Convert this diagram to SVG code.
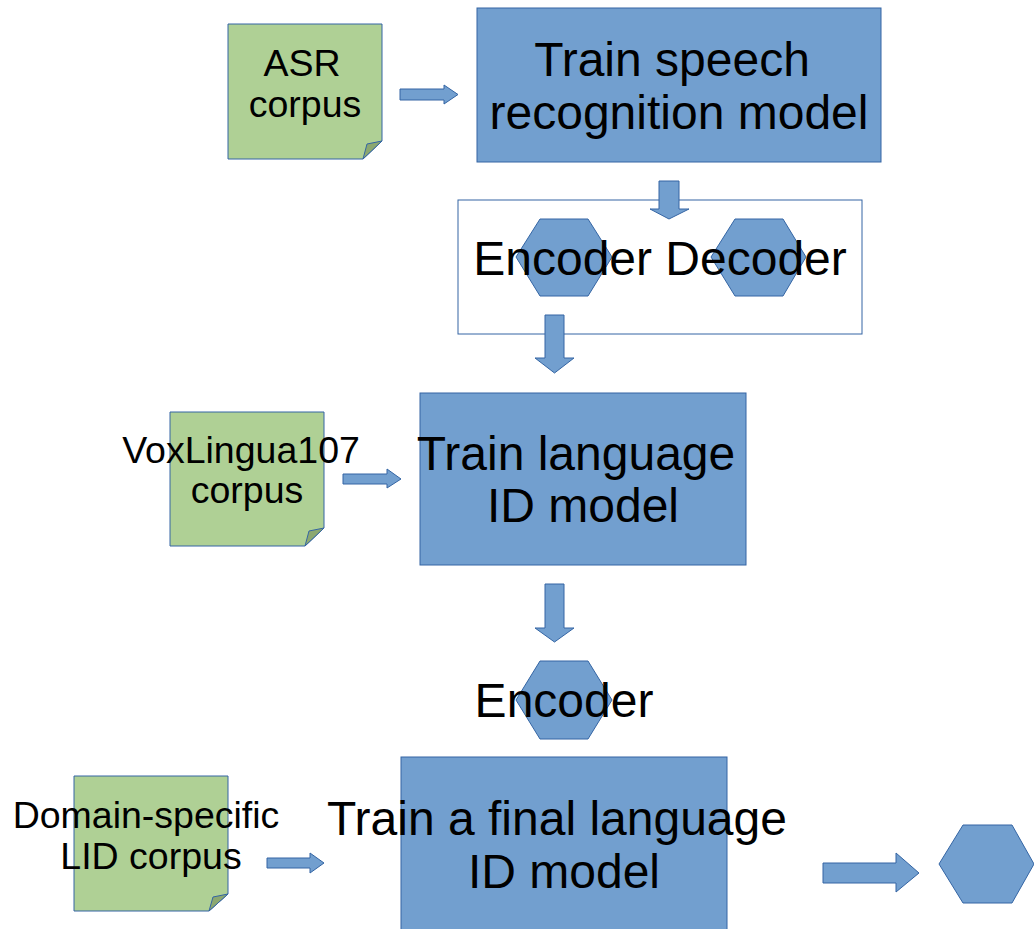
<svg xmlns="http://www.w3.org/2000/svg" width="1034" height="929" viewBox="0 0 1034 929">
<style>
.box{fill:#729fcf;stroke:#3465a4;stroke-width:1}
.note{fill:#afd095;stroke:#3465a4;stroke-width:1}
.fold{fill:#8ca870;stroke:#3465a4;stroke-width:1}
.arr{fill:#729fcf;stroke:#3465a4;stroke-width:1}
.frame{fill:#ffffff;stroke:#3465a4;stroke-width:1}
.big{font-family:"Liberation Sans",Arial,sans-serif;font-size:48px;fill:#000;text-anchor:middle}
.sm{font-family:"Liberation Sans",Arial,sans-serif;font-size:37.5px;fill:#000;text-anchor:middle}
</style>
<rect width="1034" height="929" fill="#ffffff"/>
<g id="asr-corpus">
<path class="note" d="M228,24 H382 V141 L363,159 H228 Z"/>
<path class="fold" d="M382,141 L367,144 L363,159 Z"/>
<text class="sm" x="302" y="76">ASR</text>
<text class="sm" x="305" y="117">corpus</text>
</g>
<g id="train-asr">
<rect class="box" x="477" y="8" width="404" height="154"/>
<text class="big" x="672" y="76">Train speech</text>
<text class="big" x="679" y="129">recognition model</text>
</g>
<g id="encdec-frame">
<rect class="frame" x="458" y="200" width="404" height="134"/>
</g>
<g id="hex-encoder1">
<polygon class="box" points="516,257 540,219 588,219 612,257 588,296 540,296"/>
</g>
<g id="hex-decoder">
<polygon class="box" points="711,257 735,219 783,219 806,257 783,296 735,296"/>
</g>
<g id="encdec-label">
<text class="big" x="660" y="275">Encoder Decoder</text>
</g>
<g id="vox-corpus">
<path class="note" d="M170,412 H324 V528 L305,546 H170 Z"/>
<path class="fold" d="M324,528 L309,531 L305,546 Z"/>
<text class="sm" x="241" y="463">VoxLingua107</text>
<text class="sm" x="247" y="503">corpus</text>
</g>
<g id="train-lid">
<rect class="box" x="420" y="393" width="326" height="172"/>
<text class="big" x="576" y="470">Train language</text>
<text class="big" x="583" y="522">ID model</text>
</g>
<g id="hex-encoder2">
<polygon class="box" points="516,700 540,661 588,661 612,700 588,739 540,739"/>
<text class="big" x="564" y="717">Encoder</text>
</g>
<g id="domain-corpus">
<path class="note" d="M74,776 H228 V894 L209,911 H74 Z"/>
<path class="fold" d="M228,894 L213,897 L209,911 Z"/>
<text class="sm" x="146" y="828">Domain-specific</text>
<text class="sm" x="151" y="869">LID corpus</text>
</g>
<g id="train-final">
<rect class="box" x="401" y="757" width="326" height="180"/>
<text class="big" x="557" y="835">Train a final language</text>
<text class="big" x="564" y="888">ID model</text>
</g>
<g id="hex-output">
<polygon class="box" points="939,864 963,825 1012,825 1034,864 1012,903 963,903"/>
</g>
<g id="connectors">
<path class="arr" d="M400,89 H444 V85 L458,94.5 L444,104 V100 H400 Z"/>
<path class="arr" d="M659,181 H679 V209 H689 L669,219 L650,209 H659 Z"/>
<path class="arr" d="M545,315 H564 V358 H574 L554.5,373 L535,358 H545 Z"/>
<path class="arr" d="M343,474 H387 V469 L401,479 L387,488 V484 H343 Z"/>
<path class="arr" d="M545,584 H564 V628 H574 L554.5,642 L535,628 H545 Z"/>
<path class="arr" d="M267,858 H310 V853 L324,863 L310,873 V868 H267 Z"/>
<path class="arr" d="M823,863 H896 V853 L919,873 L896,892 V883 H823 Z"/>
</g>
</svg>
